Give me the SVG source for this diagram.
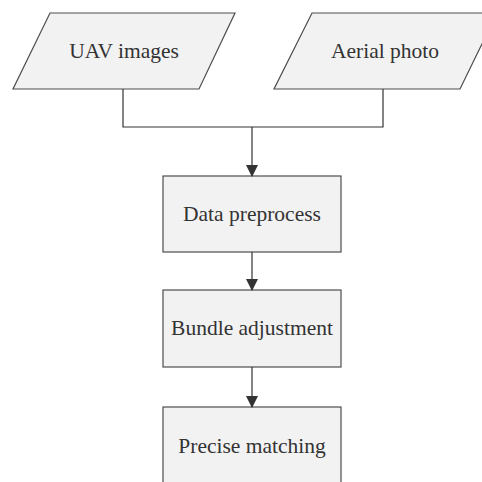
<svg xmlns="http://www.w3.org/2000/svg" width="482" height="482" viewBox="0 0 482 482">
<style>
.s{fill:#f2f2f2;stroke:#4d4d4d;stroke-width:1.2}
.t{font-family:"Liberation Serif",serif;font-size:21.5px;fill:#333;text-anchor:middle;dominant-baseline:central}
.c{fill:none;stroke:#333;stroke-width:1.2}
</style>
<defs>
<marker id="a" markerWidth="12" markerHeight="12" refX="11" refY="6" orient="auto" markerUnits="userSpaceOnUse">
<path d="M0,0 L12,6 L0,12 Z" fill="#333"/>
</marker>
</defs>
<rect width="482" height="482" fill="#fff"/>
<g id="uav"><polygon class="s" points="50,13 235,13 199,89 13,89"/><text class="t" x="124" y="51">UAV images</text></g>
<g id="aerial"><polygon class="s" points="312,13 497,13 460,89 274,89"/><text class="t" x="385" y="51">Aerial photo</text></g>
<g id="pre"><rect class="s" x="163" y="176" width="178" height="76"/><text class="t" x="252" y="214">Data preprocess</text></g>
<g id="bundle"><rect class="s" x="163" y="290" width="178" height="77"/><text class="t" x="252" y="328">Bundle adjustment</text></g>
<g id="precise"><rect class="s" x="163" y="407" width="178" height="90"/><text class="t" x="252" y="446">Precise matching</text></g>
<g id="connectors">
<path class="c" d="M123,89 V127 H383 V89"/>
<path class="c" d="M252,127 V176" marker-end="url(#a)"/>
<path class="c" d="M252,252 V290" marker-end="url(#a)"/>
<path class="c" d="M252,367 V407" marker-end="url(#a)"/>
</g>
</svg>
